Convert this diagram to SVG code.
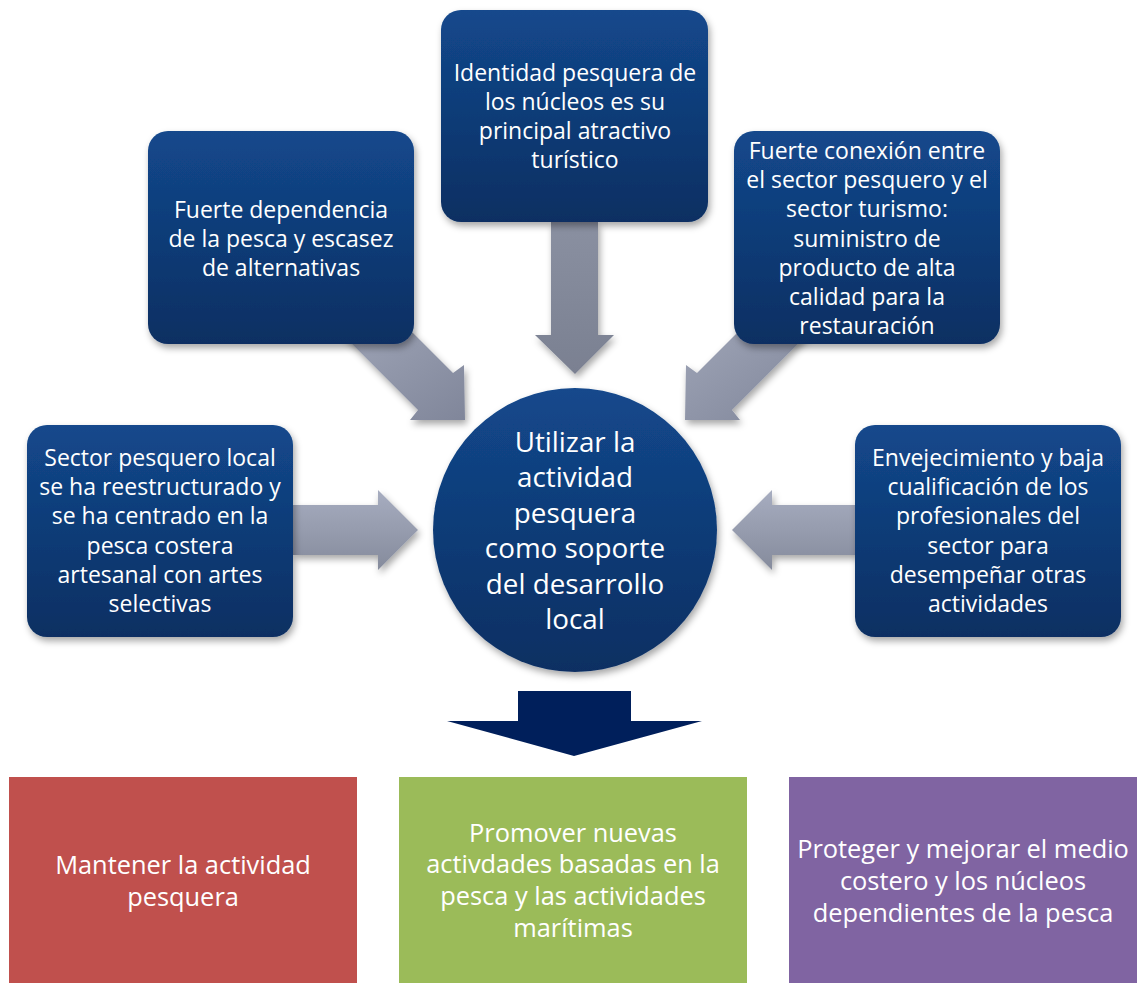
<svg xmlns="http://www.w3.org/2000/svg" width="1137" height="983" viewBox="0 0 1137 983">
<defs>
<linearGradient id="gBox" x1="0" y1="0" x2="0" y2="1">
<stop offset="0" stop-color="#13488c"/>
<stop offset="1" stop-color="#0b2f62"/>
</linearGradient>
<linearGradient id="gArrV" x1="0" y1="0" x2="0" y2="1">
<stop offset="0" stop-color="#a7adc0"/>
<stop offset="1" stop-color="#858b9c"/>
</linearGradient>
<linearGradient id="gArrT" x1="0" y1="0" x2="0" y2="1">
<stop offset="0" stop-color="#8a90a1"/>
<stop offset="1" stop-color="#7a8091"/>
</linearGradient>
<linearGradient id="gArrD" x1="0" y1="0" x2="1" y2="1">
<stop offset="0" stop-color="#9ea4b6"/>
<stop offset="1" stop-color="#80869a"/>
</linearGradient>
<filter id="sh" x="-20%" y="-20%" width="140%" height="140%">
<feDropShadow dx="2" dy="4" stdDeviation="3.5" flood-color="#000" flood-opacity="0.35"/>
</filter>
</defs>
<style>
.box{fill:url(#gBox);filter:url(#sh)}
.arr{filter:url(#sh)}
.t{font-family:"Open Sans","Noto Sans",sans-serif;fill:#fff;text-anchor:middle}
.s{font-size:23px}
.c{font-size:27.8px}
.b{font-size:25.4px}
</style>
<rect width="1137" height="983" fill="#fff"/>
<g id="connectors">
<polygon class="arr" fill="url(#gArrT)" points="551,222 598,222 598,335 614,335 575,374 535,335 551,335"/>
<polygon class="arr" fill="url(#gArrD)" points="410,330 453,373 464,365 465,420 410,420 418,410 338,330"/>
<polygon class="arr" fill="url(#gArrD)" points="740,330 697,373 686,365 685,420 740,420 732,410 812,330"/>
<polygon class="arr" fill="url(#gArrV)" points="293,505 378,505 378,490 418,530 378,570 378,555 293,555"/>
<polygon class="arr" fill="url(#gArrV)" points="857,505 772,505 772,490 732,530 772,570 772,555 857,555"/>
<polygon fill="#001f5b" points="518,691 631,691 631,721 702,721 574,756 447,721 518,721"/>
</g>
<g id="n-top">
<rect class="box" x="441" y="10" width="267" height="212" rx="20"/>
<text class="t s" x="575" y="81">Identidad pesquera de</text>
<text class="t s" x="575" y="110">los núcleos es su</text>
<text class="t s" x="575" y="139">principal atractivo</text>
<text class="t s" x="575" y="168">turístico</text>
</g>
<g id="n-upleft">
<rect class="box" x="148" y="131" width="266" height="213" rx="20"/>
<text class="t s" x="281" y="218">Fuerte dependencia</text>
<text class="t s" x="281" y="247">de la pesca y escasez</text>
<text class="t s" x="281" y="276">de alternativas</text>
</g>
<g id="n-upright">
<rect class="box" x="734" y="131" width="266" height="213" rx="20"/>
<text class="t s" x="867" y="159">Fuerte conexión entre</text>
<text class="t s" x="867" y="188">el sector pesquero y el</text>
<text class="t s" x="867" y="217">sector turismo:</text>
<text class="t s" x="867" y="247">suministro de</text>
<text class="t s" x="867" y="276">producto de alta</text>
<text class="t s" x="867" y="305">calidad para la</text>
<text class="t s" x="867" y="334">restauración</text>
</g>
<g id="n-left">
<rect class="box" x="27" y="425" width="266" height="212" rx="20"/>
<text class="t s" x="160" y="466">Sector pesquero local</text>
<text class="t s" x="160" y="495">se ha reestructurado y</text>
<text class="t s" x="160" y="524">se ha centrado en la</text>
<text class="t s" x="160" y="554">pesca costera</text>
<text class="t s" x="160" y="583">artesanal con artes</text>
<text class="t s" x="160" y="612">selectivas</text>
</g>
<g id="n-right">
<rect class="box" x="855" y="425" width="266" height="212" rx="20"/>
<text class="t s" x="988" y="466">Envejecimiento y baja</text>
<text class="t s" x="988" y="495">cualificación de los</text>
<text class="t s" x="988" y="524">profesionales del</text>
<text class="t s" x="988" y="554">sector para</text>
<text class="t s" x="988" y="583">desempeñar otras</text>
<text class="t s" x="988" y="612">actividades</text>
</g>
<g id="n-center">
<circle class="box" cx="575" cy="530" r="142"/>
<text class="t c" x="575" y="452">Utilizar la</text>
<text class="t c" x="575" y="487">actividad</text>
<text class="t c" x="575" y="523">pesquera</text>
<text class="t c" x="575" y="558">como soporte</text>
<text class="t c" x="575" y="594">del desarrollo</text>
<text class="t c" x="575" y="629">local</text>
</g>
<g id="n-red">
<rect x="9" y="777" width="348" height="206" fill="#c0504d"/>
<text class="t b" x="183" y="874">Mantener la actividad</text>
<text class="t b" x="183" y="905.5">pesquera</text>
</g>
<g id="n-green">
<rect x="399" y="777" width="348" height="206" fill="#9bbb59"/>
<text class="t b" x="573" y="841.5">Promover nuevas</text>
<text class="t b" x="573" y="873">activdades basadas en la</text>
<text class="t b" x="573" y="905">pesca y las actividades</text>
<text class="t b" x="573" y="937">marítimas</text>
</g>
<g id="n-purple">
<rect x="789" y="777" width="348" height="206" fill="#8064a2"/>
<text class="t b" x="963" y="858">Proteger y mejorar el medio</text>
<text class="t b" x="963" y="890">costero y los núcleos</text>
<text class="t b" x="963" y="922">dependientes de la pesca</text>
</g>
</svg>
